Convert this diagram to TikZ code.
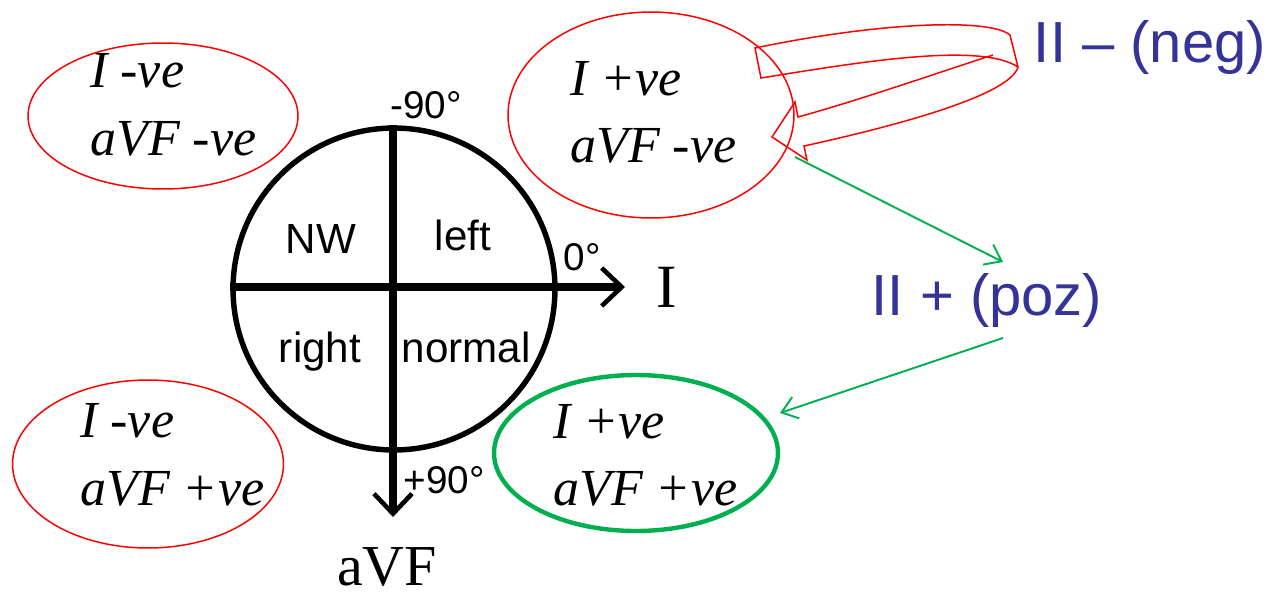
\documentclass[tikz,border=0pt]{standalone}
\usepackage{fontspec}
\setmainfont{Liberation Serif}
\setsansfont{Liberation Sans}
\usetikzlibrary{arrows.meta,shapes.geometric}
\definecolor{leadred}{HTML}{FF0000}
\definecolor{leadgreen}{HTML}{00B050}
\definecolor{leadblue}{HTML}{333399}

\begin{document}
\begin{tikzpicture}[
  x=0.02cm,
  y=-0.02cm,
  zone/.style={ellipse, draw=leadred, line width=0.85pt, inner sep=0pt},
  goodzone/.style={ellipse, draw=leadgreen, line width=2.5pt, inner sep=0pt},
  sign/.style={font=\fontsize{29.6}{30}\selectfont\itshape, anchor=base west, inner sep=0pt},
  quad/.style={font=\sffamily\fontsize{24}{24}\selectfont, anchor=base, inner sep=0pt},
  deg/.style={font=\sffamily\fontsize{22}{22}\selectfont, anchor=base, inner sep=0pt},
  leadname/.style={font=\fontsize{35}{35}\selectfont, anchor=base, inner sep=0pt},
  verdict/.style={font=\sffamily\fontsize{33}{33}\selectfont, text=leadblue, anchor=base, inner sep=0pt},
  axis/.style={line width=4.3pt, -{Straight Barb[length=0.4cm, width=0.76cm, line width=2.6pt]}},
  hint/.style={leadgreen, line width=1.1pt, -{Straight Barb[length=0.3cm, width=0.45cm]}}
]
  \useasboundingbox (0,0) rectangle (1272,599);

  % ================= the axis wheel =====================================
  \node[circle, draw, line width=3.1pt, minimum size=6.44cm, inner sep=0pt]
    (wheel) at (394,289) {};
  \coordinate (iend) at (625,287);
  \coordinate (fend) at (393,517);
  \draw[axis] (wheel.west |- iend) -- (iend);
  \draw[axis] (wheel.north -| fend) -- (fend);

  \node[quad] (nwq) at (321,253) {NW};
  \node[quad] (leftq) at (463,250) {left};
  \node[quad] (rightq) at (320,362) {right};
  \node[quad] (normalq) at (466,362) {normal};

  \node[deg] (degtop) at (426,118) {-90°};
  \node[deg] (degzero) at (582,270) {0°};
  \node[deg] (degbottom) at (444,493) {+90°};

  \node[leadname] (leadi) at (667,307) {I};
  \node[leadname, font=\fontsize{33}{33}\selectfont] (leadavf) at (387,585) {aVF};

  % ================= the four sign zones ================================
  \node[zone, minimum width=5.4cm, minimum height=2.92cm] (ineg-fneg) at (163,116) {};
  \node[sign] (tl1) at (90,87) {I -ve};
  \node[sign] (tl2) at (90,155) {aVF -ve};

  \node[zone, minimum width=5.72cm, minimum height=4.12cm] (ipos-fneg) at (651,115) {};
  \node[sign] (tr1) at (570,95) {I +ve};
  \node[sign] (tr2) at (570,162) {aVF -ve};

  \node[zone, minimum width=5.42cm, minimum height=3.36cm] (ineg-fpos) at (148,464) {};
  \node[sign] (bl1) at (80,437) {I -ve};
  \node[sign] (bl2) at (80,505) {aVF +ve};

  \node[goodzone, minimum width=5.68cm, minimum height=3.12cm] (ipos-fpos) at (636,453) {};
  \node[sign] (br1) at (553,438) {I +ve};
  \node[sign] (br2) at (553,505) {aVF +ve};

  % ================= lead II ============================================
  \node[verdict] (neg) at (1150,62) {II – (neg)};
  \node[verdict] (poz) at (987,315) {II + (poz)};

  % hollow bent arrow round the upper right zone
  \draw[leadred, line width=0.85pt, line join=miter]
    (993,55) .. controls (940,72) and (860,100) .. (798,117)
    -- (795,102) -- (772,137) -- (807,160) -- (804,146)
    .. controls (900,125) and (1010,95) .. (1018,67)
    -- (1010,35)
    .. controls (990,18) and (880,22) .. (755,48)
    -- (761,78)
    .. controls (860,62) and (980,42) .. (1018,67);

  % the two green hints sit just outside their zones
  \coordinate (trout) at (795,157);
  \coordinate (pozin) at (1003,262);
  \coordinate (pozout) at (1003,338);
  \coordinate (okin) at (780,413);
  \draw[hint] (trout) -- (pozin);
  \draw[hint] (pozout) -- (okin);
\end{tikzpicture}
\end{document}
